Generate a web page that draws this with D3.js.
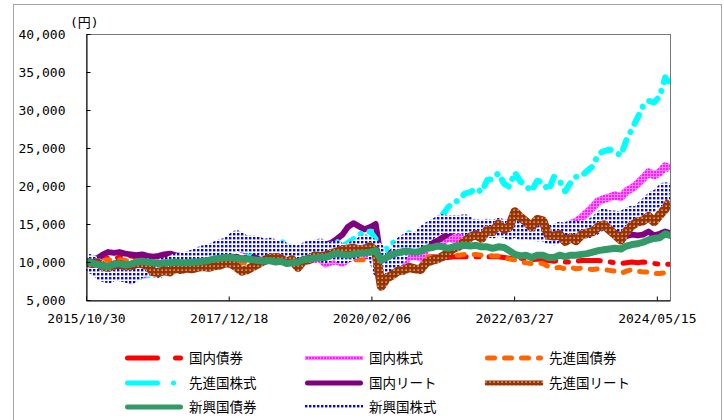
<!DOCTYPE html>
<html>
<head>
<meta charset="utf-8">
<script src="https://cdn.jsdelivr.net/npm/d3@7"></script>
<style>
  body { margin: 0; background: #fff; }
  svg { display: block; }
</style>
</head>
<body>
<div id="chart"></div>
<script>
// monthly values, 2015/10/30 .. 2024/07/26 (yen, base 10,000)
const startDate = "2015-10-30";
const endDate = "2024-07-26";
const xTickDates = ["2015-10-30", "2017-12-18", "2020-02-06", "2022-03-27", "2024-05-15"];
const xTickLabels = ["2015/10/30", "2017/12/18", "2020/02/06", "2022/03/27", "2024/05/15"];
const yTicks = [5000, 10000, 15000, 20000, 25000, 30000, 35000, 40000];
const seriesNames = ["国内債券", "国内株式", "先進国債券", "先進国株式", "国内リート", "先進国リート", "新興国債券", "新興国株式"];

const domBond = [10000, 10000, 10100,
  10300, 10500, 10500, 10600, 10700, 10800, 10700, 10600, 10500, 10500, 10400, 10400,
  10400, 10500, 10500, 10500, 10500, 10500, 10500, 10600, 10500, 10500, 10500, 10500,
  10500, 10500, 10400, 10400, 10400, 10300, 10300, 10300, 10300, 10300, 10400, 10500,
  10600, 10700, 10800, 10800, 10900, 11000, 11100, 11000, 10900, 10800, 10800, 10700,
  10800, 10800, 10700, 10700, 10700, 10700, 10700, 10700, 10700, 10700, 10700, 10700,
  10700, 10600, 10600, 10700, 10700, 10700, 10700, 10700, 10700, 10700, 10700, 10700,
  10600, 10500, 10500, 10500, 10400, 10300, 10400, 10300, 10200, 10100, 10200, 10000,
  10000, 10100, 10200, 10200, 10200, 10200, 10100, 10000, 9900, 9800, 9900, 10000,
  9900, 10000, 9900, 9800, 9700, 9700, 9700];

const domStock = [10000, 10100, 9900,
  9000, 8200, 8500, 8000, 8300, 7600, 8200, 8300, 8400, 8800, 9300, 9700,
  9700, 9800, 9700, 9700, 9900, 10300, 10500, 10700, 10900, 11300, 11500, 11600,
  12200, 11700, 11400, 11500, 11400, 11500, 11700, 11500, 12000, 11000, 11100, 9800,
  10200, 10400, 10400, 10500, 9800, 10100, 10200, 9900, 10400, 10800, 11100, 11100,
  10900, 9900, 9200, 9600, 10200, 10100, 10000, 10800, 10800, 10600, 11700, 12000,
  12200, 12600, 13300, 13000, 13300, 13600, 14000, 14300, 14600, 14300, 14000, 14300,
  13900, 13600, 14100, 13700, 13800, 13600, 13900, 14200, 13700, 13800, 14300, 14200,
  15000, 15300, 15800, 16500, 17200, 18000, 18300, 18500, 18800, 18500, 19300, 19700,
  20300, 21000, 21800, 21400, 21800, 22600, 22300];

const devBond = [10000, 10100, 10000,
  10200, 10300, 10200, 10300, 10200, 10100, 10200, 10200, 10200, 10100, 10000, 10100,
  10000, 10100, 10000, 10000, 10000, 10100, 10000, 10000, 10100, 10200, 10100, 10200,
  10100, 9900, 9900, 10000, 9900, 10000, 10000, 10000, 10100, 10000, 10000, 10000,
  10000, 10100, 10200, 10200, 10200, 10300, 10300, 10300, 10300, 10300, 10300, 10300,
  10400, 10400, 10200, 10400, 10400, 10500, 10600, 10600, 10600, 10600, 10700, 10700,
  10800, 10700, 10800, 10900, 10900, 11000, 11000, 11000, 10900, 10900, 10800, 10800,
  10600, 10400, 10300, 10000, 9900, 9800, 9900, 9800, 9400, 9200, 9300, 9100,
  9300, 9100, 9200, 9100, 9000, 9100, 9000, 8900, 8800, 8500, 8800, 9000,
  8800, 8700, 8700, 8500, 8500, 8600, 8700];

const devStock = [10000, 10200, 9900,
  9000, 8500, 8900, 8700, 8900, 8200, 8700, 7900, 8200, 8700, 9600, 10200,
  10200, 10500, 10500, 10500, 10600, 10800, 10900, 10800, 11200, 11600, 11700, 12000,
  12200, 11600, 11100, 11200, 11600, 11800, 12200, 12400, 12800, 11900, 12100, 10700,
  11400, 12000, 12100, 12700, 11800, 12400, 12700, 12100, 12500, 13000, 13600, 13900,
  14000, 13000, 10700, 11800, 12500, 12800, 13000, 13800, 13500, 13200, 14500, 15000,
  15300, 16200, 17200, 17800, 18200, 19000, 19200, 19700, 19200, 20800, 20900, 21700,
  20300, 19900, 21800, 20600, 20000, 19300, 20700, 20500, 19400, 21200, 20700, 19300,
  20500, 21200, 21300, 22000, 22600, 24200, 24600, 24800, 24500, 24000, 26000, 27500,
  29000, 30500, 31200, 31000, 31800, 34300, 33500];

const domReit = [10000, 10300, 10500,
  11000, 11300, 11200, 11300, 11100, 11000, 10900, 11000, 10800, 10700, 10800, 11000,
  11100, 10900, 10800, 10700, 10400, 10300, 10100, 10200, 10000, 10100, 10300, 10600,
  10700, 10400, 10600, 10700, 10800, 10900, 10900, 10800, 10800, 10700, 10900, 10900,
  11400, 11600, 11800, 12000, 12300, 12500, 13000, 13600, 14600, 15100, 14700, 14300,
  14600, 15000, 10200, 11000, 11400, 11600, 11300, 11600, 11700, 11600, 12200, 12500,
  12800, 13200, 13700, 14100, 14500, 14900, 15000, 14800, 14700, 14200, 14000, 14200,
  13900, 13700, 14000, 13800, 13800, 13600, 13700, 13800, 13300, 13200, 13600, 13400,
  13700, 13600, 13600, 13700, 13900, 14300, 14700, 14500, 14400, 14000, 13400, 13600,
  13500, 13600, 14000, 13500, 13700, 14000, 13800];

const devReit = [10000, 9800, 9900,
  9400, 9300, 9600, 9700, 9500, 9500, 9800, 9800, 9500, 8700, 8600, 8900,
  8700, 9200, 9000, 9200, 9100, 9300, 9400, 9300, 9500, 9600, 9900, 9800,
  9300, 8800, 9000, 9400, 9800, 10200, 10500, 10600, 10400, 10000, 10300, 9300,
  10200, 10300, 10800, 10700, 10800, 11100, 11300, 11600, 11700, 11800, 11600, 11700,
  12000, 11500, 6800, 7900, 8300, 8800, 8900, 9300, 9100, 9000, 9900, 10200,
  10400, 10700, 11200, 11800, 12100, 12700, 13300, 13600, 13100, 14200, 14000, 15000,
  14300, 14600, 16600, 15900, 15300, 14600, 15600, 15400, 13500, 13400, 13600, 12700,
  13200, 12800, 13600, 13800, 14000, 14600, 14900, 14200, 13600, 12900, 14000, 14800,
  15300, 15400, 16000, 15300, 16200, 17000, 18000];

const emBond = [10000, 9900, 9700,
  9500, 9400, 9700, 9800, 9600, 9700, 10000, 10100, 10000, 9900, 9800, 9900,
  9900, 10000, 9900, 9900, 10000, 10000, 10100, 10200, 10400, 10500, 10600, 10600,
  10500, 10400, 10400, 10300, 10200, 10100, 10200, 10000, 10100, 9800, 9900, 10000,
  10300, 10400, 10500, 10600, 10600, 10900, 11100, 11000, 10900, 11000, 11100, 11200,
  11300, 11500, 10200, 10600, 11000, 11200, 11400, 11400, 11300, 11400, 11800, 11900,
  12100, 12000, 11800, 12000, 12100, 12200, 12100, 12200, 12000, 12000, 11800, 12000,
  11900, 11500, 11000, 10800, 10900, 10600, 10900, 10900, 10600, 10600, 10900, 10700,
  10900, 10900, 11000, 11100, 11300, 11500, 11600, 11700, 11800, 11700, 12100, 12300,
  12400, 12600, 12900, 13100, 13200, 13700, 13500];

const emStock = [10000, 9700, 9300,
  8600, 8400, 8900, 8700, 8500, 8300, 8800, 9200, 9300, 9200, 9100, 9400,
  9500, 9900, 10000, 10100, 10400, 10600, 11000, 11100, 11400, 11800, 12000, 12300,
  13000, 12500, 12300, 12300, 12100, 11800, 12000, 11600, 11600, 10900, 11200, 10600,
  11300, 11600, 11700, 11900, 11000, 11500, 11600, 10900, 11200, 11600, 11800, 12400,
  12000, 11500, 9000, 9800, 10000, 10800, 12300, 12800, 12700, 13000, 13800, 14300,
  14700, 15100, 14900, 15000, 14900, 15100, 14300, 14500, 14300, 14500, 14300, 14600,
  14400, 14100, 14600, 14100, 14200, 14000, 13900, 14200, 13600, 13400, 14100, 13800,
  14300, 14200, 14300, 14300, 14600, 15100, 15800, 15600, 15600, 15200, 15800, 16200,
  16000, 16800, 17500, 18200, 18500, 19300, 19000];

const W = 724, H = 420;
const plot = { left: 86, top: 34, right: 670, bottom: 300 };

const parse = d3.timeParse("%Y-%m-%d");
const monthStarts = d3.timeMonth.range(new Date(2015, 10, 1), new Date(2024, 6, 1));
const dates = [parse(startDate)]
  .concat(monthStarts.map(m => d3.timeDay.offset(d3.timeMonth.offset(m, 1), -1)))
  .concat([parse(endDate)]);

const svg = d3.select("#chart").append("svg")
  .attr("width", W)
  .attr("height", H);

// outer frame
svg.append("rect")
  .attr("x", 13.5).attr("y", 4.5)
  .attr("width", 708).attr("height", 440)
  .attr("fill", "none")
  .attr("stroke", "#a6a6a6");

const defs = svg.append("defs");

// textures for the patterned lines
const pBlue = defs.append("pattern").attr("id", "dotBlue")
  .attr("patternUnits", "userSpaceOnUse").attr("width", 4).attr("height", 4);
pBlue.append("rect").attr("width", 4).attr("height", 4).attr("fill", "#fff");
pBlue.append("rect").attr("x", 1).attr("y", 1).attr("width", 2.4).attr("height", 2.4).attr("fill", "#0000ff");

const pPink = defs.append("pattern").attr("id", "chkPink")
  .attr("patternUnits", "userSpaceOnUse").attr("width", 3).attr("height", 3);
pPink.append("rect").attr("width", 3).attr("height", 3).attr("fill", "#ff80ff");
pPink.append("rect").attr("width", 2).attr("height", 2).attr("fill", "#ff1aff");

const pBrown = defs.append("pattern").attr("id", "dotBrown")
  .attr("patternUnits", "userSpaceOnUse").attr("width", 4).attr("height", 4);
pBrown.append("rect").attr("width", 4).attr("height", 4).attr("fill", "#993300");
pBrown.append("rect").attr("x", 1.5).attr("y", 1.5).attr("width", 1.2).attr("height", 1.2).attr("fill", "#fff");

defs.append("clipPath").attr("id", "plotClip")
  .append("rect")
  .attr("x", plot.left).attr("y", plot.top)
  .attr("width", plot.right - plot.left).attr("height", plot.bottom - plot.top);

const x = d3.scaleTime()
  .domain([parse(startDate), parse(endDate)])
  .range([plot.left, plot.right]);

const y = d3.scaleLinear()
  .domain([5000, 40000])
  .range([plot.bottom, plot.top]);

// dash = pattern in the plot, legDash = pattern of the legend sample
const series = [
  { values: domBond,  stroke: "#ff0000", width: 5, dash: "22,10,3,10", legDash: "30,18,5,18", cap: "round", lw: 5 },
  { values: domStock, stroke: "url(#chkPink)", width: 8, lw: 4 },
  { values: devBond,  stroke: "#ff6600", width: 5, dash: "7,10", legDash: "7,10", cap: "round", lw: 5 },
  { values: devStock, stroke: "#00ffff", width: 6, dash: "10,9,0.1,9", legDash: "30,16,0.1,16", cap: "round", lw: 5 },
  { values: domReit,  stroke: "#800080", width: 6, cap: "round", lw: 5 },
  { values: devReit,  stroke: "url(#dotBrown)", width: 9, lw: 5 },
  { values: emBond,   stroke: "#339966", width: 7, cap: "round", lw: 5 },
  { values: emStock,  stroke: "url(#dotBlue)", width: 18, lw: 4 }
].map((s, i) => ({ ...s, name: seriesNames[i] }));

// stacking order, bottom first
const drawOrder = [0, 2, 1, 4, 3, 7, 5, 6];

// plot frame
svg.append("rect")
  .attr("x", plot.left + 0.5).attr("y", plot.top + 0.5)
  .attr("width", plot.right - plot.left).attr("height", plot.bottom - plot.top)
  .attr("fill", "none")
  .attr("stroke", "#777");

const line = d3.line()
  .x((d, i) => x(dates[i]))
  .y(d => y(d));

const lines = svg.append("g").attr("clip-path", "url(#plotClip)");

drawOrder.forEach(k => {
  const s = series[k];
  lines.append("path")
    .datum(s.values)
    .attr("d", line)
    .attr("fill", "none")
    .attr("stroke", s.stroke)
    .attr("stroke-width", s.width)
    .attr("stroke-linejoin", "round")
    .attr("stroke-linecap", s.cap || "butt")
    .attr("stroke-dasharray", s.dash || null);
});

// axes
const yAxis = svg.append("g")
  .attr("transform", `translate(${plot.left + 0.5},0)`)
  .call(d3.axisLeft(y)
    .tickValues(yTicks)
    .tickSizeInner(-4)
    .tickSizeOuter(0)
    .tickPadding(21)
    .tickFormat(d3.format(",")));

const xAxis = svg.append("g")
  .attr("transform", `translate(0,${plot.bottom + 0.5})`)
  .call(d3.axisBottom(x)
    .tickValues(xTickDates.map(parse))
    .tickSizeInner(-4)
    .tickSizeOuter(0)
    .tickPadding(13)
    .tickFormat((d, i) => xTickLabels[i]));

[yAxis, xAxis].forEach(g => {
  g.selectAll("path, line").attr("stroke", "#000");
  g.selectAll("text")
    .attr("fill", "#000")
    .style("font-family", "'DejaVu Sans Mono', monospace")
    .style("font-size", "13px");
});

svg.append("text")
  .attr("x", 70).attr("y", 27)
  .style("font-family", "'DejaVu Sans Mono', 'Noto Sans CJK JP', monospace")
  .style("font-size", "13px")
  .text("(円)");

// legend, three columns
const legCols = [125, 305, 485];
const legRows = [358, 383, 407];
const legend = svg.append("g");

series.forEach((s, i) => {
  const cx = legCols[i % 3];
  const cy = legRows[Math.floor(i / 3)];
  const inset = s.cap === "round" ? 2.5 : 0;
  legend.append("path")
    .attr("d", d3.line()([[cx + inset, cy], [cx + 58 - inset, cy]]))
    .attr("fill", "none")
    .attr("stroke", s.stroke)
    .attr("stroke-width", s.lw)
    .attr("stroke-linecap", s.cap || "butt")
    .attr("stroke-dasharray", s.legDash || null);
  legend.append("text")
    .attr("x", cx + 64).attr("y", cy)
    .attr("dy", "0.36em")
    .style("font-family", "'Noto Sans CJK JP', sans-serif")
    .style("font-size", "13.5px")
    .attr("fill", "#000")
    .text(s.name);
});
</script>
</body>
</html>
